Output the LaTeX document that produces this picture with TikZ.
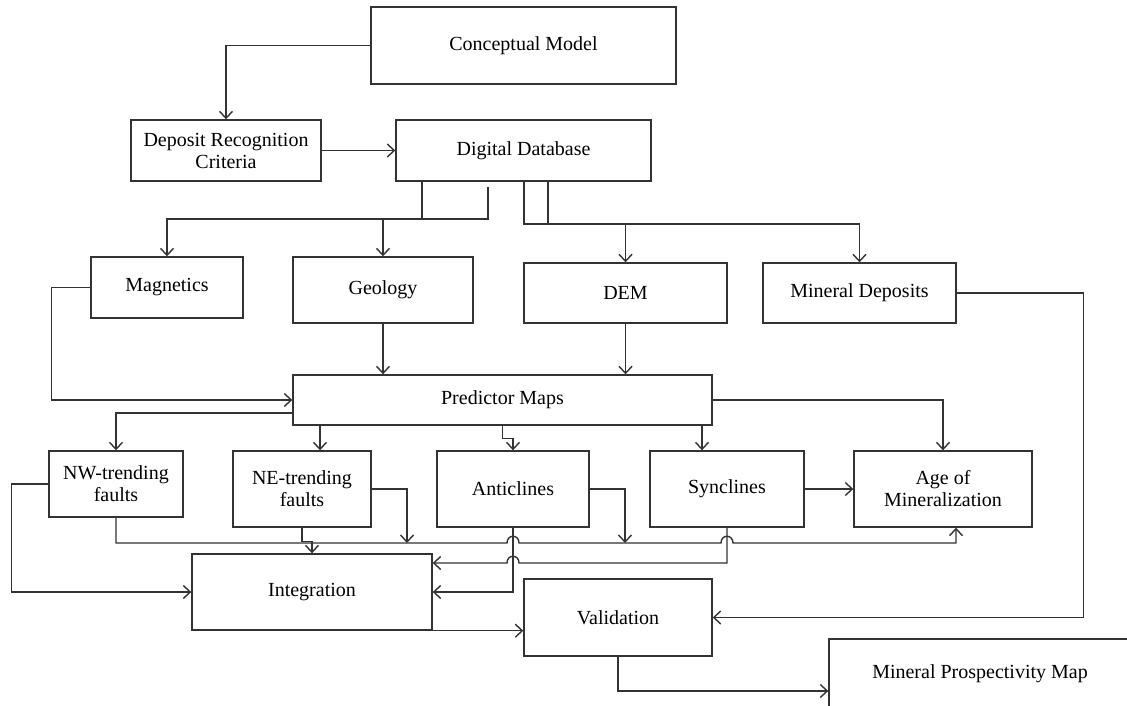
\documentclass[tikz,border=0pt]{standalone}
\usepackage{fontspec}
\setmainfont{Liberation Serif}
\usetikzlibrary{arrows.meta,calc}

\tikzset{
  blk/.style={draw=black!80, line width=1.4pt, align=center, inner sep=2pt,
              font=\fontsize{20}{22}\selectfont},
  ln/.style={draw=black!80, line width=1.4pt},
  arr/.style={ln, -{Straight Barb[length=7pt,width=13pt]}},
}

\begin{document}
\begin{tikzpicture}[x=1pt,y=-1pt]
\useasboundingbox (0,0) rectangle (1127,706);
\clip (0,0) rectangle (1127,706);
%  Boxes
\node[blk, minimum width=305, minimum height=77] (concept) at (523.5,45.5) {Conceptual Model};
\node[blk, minimum width=190, minimum height=61] (deposit) at (226,150.5) {Deposit Recognition\\Criteria};
\node[blk, minimum width=255, minimum height=61] (digdb) at (523.5,150.5) {Digital Database};
\node[blk, minimum width=152, minimum height=61] (magnet) at (167,287.5) {Magnetics};
\node[blk, minimum width=180, minimum height=66] (geology) at (383,290) {Geology};
\node[blk, minimum width=203, minimum height=60] (dem) at (625.5,293) {DEM};
\node[blk, minimum width=193, minimum height=60] (mindep) at (859.5,293) {Mineral Deposits};
\node[blk, minimum width=419, minimum height=50] (predict) at (502.5,400) {Predictor Maps};
\node[blk, minimum width=134, minimum height=66] (nwfault) at (116,484) {NW-trending\\faults};
\node[blk, minimum width=138, minimum height=76] (nefault) at (302,489) {NE-trending\\faults};
\node[blk, minimum width=152, minimum height=76] (anticl) at (513,489) {Anticlines};
\node[blk, minimum width=154, minimum height=76] (syncl) at (727,489) {Synclines};
\node[blk, minimum width=178, minimum height=76] (agemin) at (943,489) {Age of\\Mineralization};
\node[blk, minimum width=240, minimum height=76] (integ) at (312,592) {Integration};
\node[blk, minimum width=188, minimum height=77] (valid) at (618,617.5) {Validation};
\node[blk, minimum width=302, minimum height=70] (mpm) at (980,674) {Mineral Prospectivity Map};

%  Model and database
\draw[arr] (concept.west) -| (deposit.north);
\draw[arr] (deposit) -- (digdb);
\coordinate (ddL) at (422,219);
\coordinate (ddS) at (488,187);
\coordinate (ddR) at (524,224);
\coordinate (ddR2) at (548,224);
\draw[ln] (digdb.south -| ddL) -- (ddL);
\draw[arr] (ddS) |- (magnet.north |- ddL) -- (magnet.north);
\draw[arr] (geology.north |- ddL) -- (geology.north);
\draw[arr] (digdb.south -| ddR) |- (mindep.north |- ddR) -- (mindep.north);
\draw[ln] (digdb.south -| ddR2) -- (ddR2);
\draw[arr] (dem.north |- ddR) -- (dem.north);

%  Data layers to predictor maps
\draw[arr] (magnet.west) -- ++(-39,0) |- (predict.west);
\draw[arr] (geology.south) -- (geology.south |- predict.north);
\draw[arr] (dem.south) -- (dem.south |- predict.north);

%  Predictor maps to the evidence maps
\coordinate (neIn) at ([xshift=18pt]nefault.north);
\coordinate (syIn) at ([xshift=-25pt]syncl.north);
\draw[arr] ([yshift=-13pt]predict.west) -| (nwfault.north);
\draw[arr] (predict.south -| neIn) -- (neIn);
\draw[arr] (predict.south) -- ++(0,13) -| (anticl.north);
\draw[arr] (predict.south -| syIn) -- (syIn);
\draw[arr] (predict.east) -| (agemin.north);
\draw[arr] (syncl) -- (agemin);

%  Evidence maps to integration
\coordinate (ageIn) at ([xshift=13pt]agemin.south);
\coordinate (neBus) at (407,543);
\coordinate (anBus) at (625,543);
\draw[arr] (nwfault.west) -- ++(-37,0) |- (integ.west);
\draw[arr] (nefault.south) -- ++(0,14) -| (integ.north);
\draw[arr] (nwfault.south) |- (507,543) .. controls (507,534) and (519,534) .. (519,543)
  -- (721,543) .. controls (721,534) and (733,534) .. (733,543) -| (ageIn);
\draw[arr] (nefault.east) -| (neBus);
\draw[arr] (anticl.east) -| (anBus);
\draw[arr] (anticl.south) |- (integ.east);
\draw[arr] (syncl.south) |- (519,563) .. controls (519,554) and (507,554) .. (507,563)
  -- ([yshift=29pt]integ.east);

%  Validation and final map
\draw[arr] (integ.south east) -- (integ.south east -| valid.west);
\draw[arr] (valid.south) |- ([yshift=-17pt]mpm.west);
\draw[arr] (mindep.east) -- ++(127,0) |- (valid.east);
\end{tikzpicture}
\end{document}
